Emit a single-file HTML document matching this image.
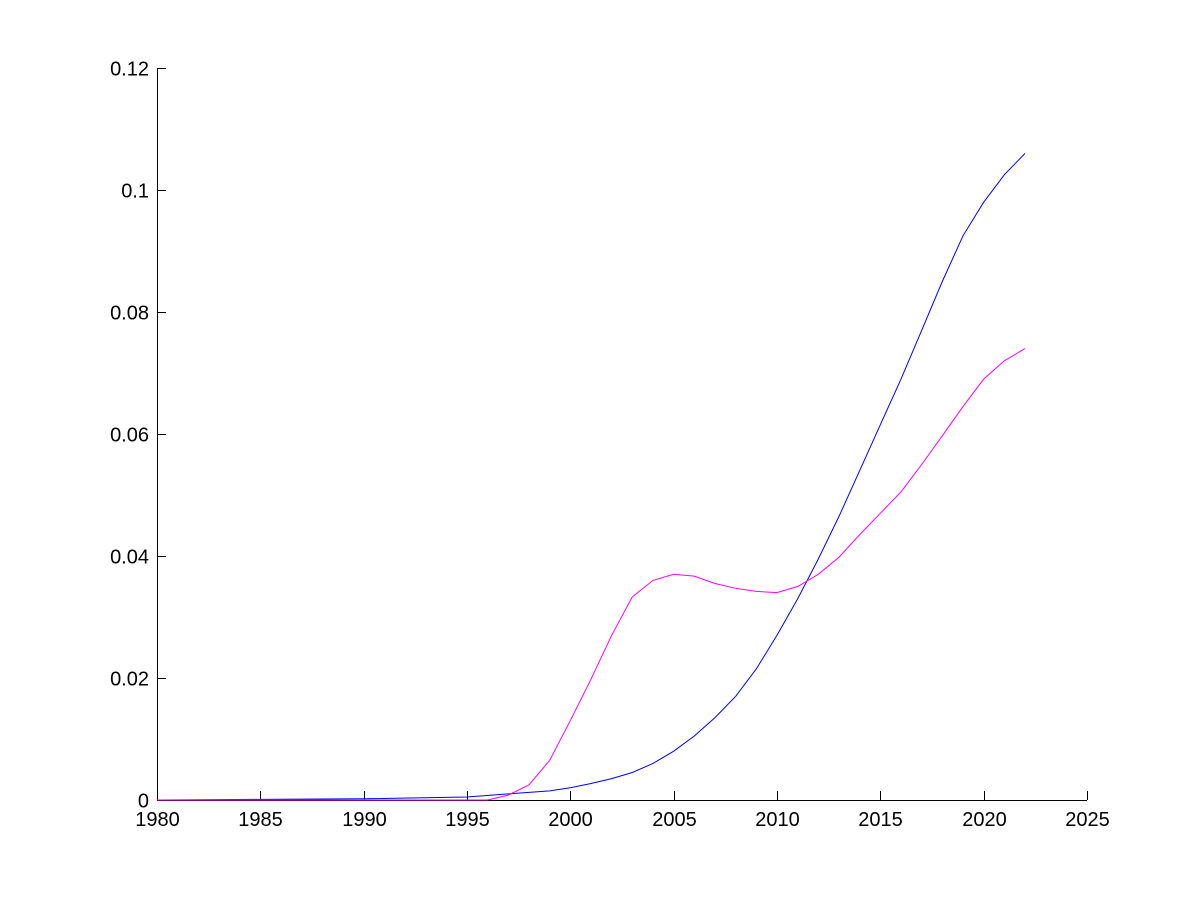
<!DOCTYPE html>
<html><head><style>body{margin:0;background:#fff}svg{display:block}text{font-family:"Liberation Sans",Arial,sans-serif;font-size:20px;fill:#000}</style></head>
<body>
<svg id="s" width="1200" height="900" xmlns="http://www.w3.org/2000/svg">
<g stroke="#000" stroke-width="1" fill="none">
<line x1="157.5" y1="68" x2="157.5" y2="800.5"/>
<line x1="157" y1="800.5" x2="1087" y2="800.5"/>
</g>
<g id="ticks" stroke="#000" stroke-width="1"></g>
<g id="labels"></g>
<polyline id="b" fill="none" stroke="#0000ff" stroke-width="1"/>
<polyline id="m" fill="none" stroke="#ff00ff" stroke-width="1"/>
</svg>
<script>
var X=function(y){return 157+(y-1980)*930/45},Y=function(v){return 800-v*732/0.12};
var t=document.getElementById('ticks'),l=document.getElementById('labels'),ns='http://www.w3.org/2000/svg';
function el(p,n,a,tx){var e=document.createElementNS(ns,n);for(var k in a)e.setAttribute(k,a[k]);if(tx)e.textContent=tx;p.appendChild(e);}
for(var y=1980;y<=2025;y+=5){var x=Math.round(X(y))+0.5;el(t,'line',{x1:x,y1:800,x2:x,y2:791});el(l,'text',{x:x,y:826,'text-anchor':'middle'},''+y);}
var yl=['0','0.02','0.04','0.06','0.08','0.1','0.12'];
for(var i=0;i<7;i++){var yy=Math.round(Y(i*0.02))+0.5;el(t,'line',{x1:157,y1:yy,x2:166,y2:yy});el(l,'text',{x:149,y:yy+7,'text-anchor':'end'},yl[i]);}
var B=[[1980,0],[1985,0.0001],[1990,0.0002],[1995,0.0005],[1997,0.001],[1999,0.0015],[2000,0.002],[2001,0.0027],[2002,0.0035],[2003,0.0045],[2004,0.006],[2005,0.008],[2006,0.0105],[2007,0.0135],[2008,0.017],[2009,0.0215],[2010,0.027],[2011,0.033],[2012,0.0395],[2013,0.0465],[2014,0.054],[2015,0.0615],[2016,0.069],[2017,0.077],[2018,0.085],[2019,0.0925],[2020,0.098],[2021,0.1025],[2022,0.106]];
var M=[[1980,0],[1996,0],[1997,0.0008],[1998,0.0025],[1999,0.0065],[2000,0.013],[2001,0.0198],[2002,0.027],[2003,0.0333],[2004,0.036],[2005,0.037],[2006,0.0367],[2007,0.0355],[2008,0.0347],[2009,0.0342],[2010,0.034],[2011,0.035],[2012,0.037],[2013,0.0398],[2014,0.0435],[2015,0.047],[2016,0.0505],[2017,0.055],[2018,0.0597],[2019,0.0645],[2020,0.069],[2021,0.072],[2022,0.074]];
function pts(a){return a.map(function(p){return X(p[0]).toFixed(1)+','+Y(p[1]).toFixed(1)}).join(' ')}
document.getElementById('b').setAttribute('points',pts(B));
document.getElementById('m').setAttribute('points',pts(M));
</script>
</body></html>
